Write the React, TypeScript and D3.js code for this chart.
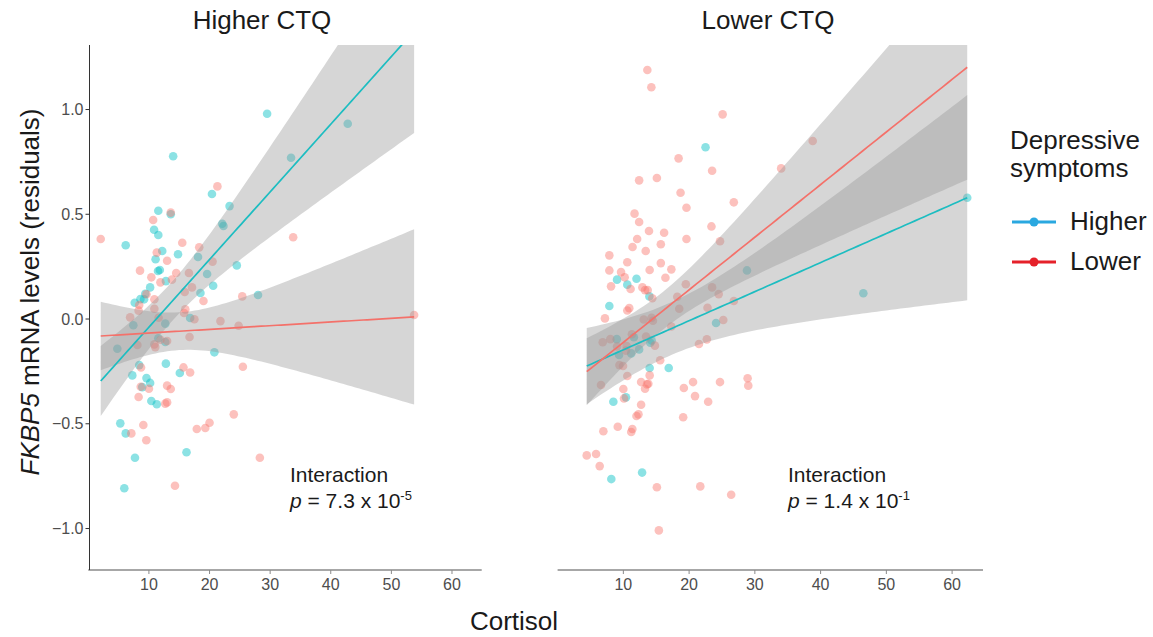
import React from "react";
import * as d3 from "d3";

type Pt = [number, number]; // [cortisol, FKBP5 residual]

// ---- Data -----------------------------------------------------------------
const panelTitles = ["Higher CTQ", "Lower CTQ"];
const groupNames = ["Higher", "Lower"];
const xTicks = [10, 20, 30, 40, 50, 60];
const yTicks = [-1.0, -0.5, 0.0, 0.5, 1.0];
const pValueMantissa = ["7.3", "1.4"];
const pValueExponent = ["-5", "-1"];

// Higher CTQ panel
const highCtqHigherDep: Pt[] = [
  [29.5, 0.98], [14.0, 0.777], [20.4, 0.597], [23.3, 0.539], [11.55, 0.517], [13.6, 0.5],
  [10.85, 0.426], [11.55, 0.401], [22.1, 0.455], [22.3, 0.444], [33.45, 0.77], [42.8, 0.932],
  [6.17, 0.352], [12.2, 0.325], [11.1, 0.285], [14.8, 0.309], [18.1, 0.296], [24.5, 0.256],
  [11.5, 0.229], [11.8, 0.234], [19.6, 0.215], [12.8, 0.181], [20.6, 0.159], [10.2, 0.151],
  [18.5, 0.124], [9.4, 0.12], [28.0, 0.115], [8.6, 0.095], [9.2, 0.094], [7.66, 0.078],
  [16.8, 0.005], [7.43, -0.03], [12.7, -0.022], [11.55, -0.092], [12.7, -0.11], [4.79, -0.142],
  [20.8, -0.159], [8.4, -0.22], [12.8, -0.213], [15.1, -0.258], [7.26, -0.269], [9.6, -0.282],
  [10.2, -0.305], [8.9, -0.325], [10.4, -0.391], [11.3, -0.407], [5.28, -0.498], [6.17, -0.546],
  [7.7, -0.662], [16.2, -0.636], [5.94, -0.808],
];
const highCtqLowerDep: Pt[] = [
  [21.3, 0.633], [13.6, 0.508], [10.7, 0.473], [2.05, 0.382], [33.8, 0.39], [15.5, 0.364],
  [18.3, 0.342], [11.3, 0.317], [13.0, 0.278], [20.5, 0.274], [8.53, 0.231], [14.5, 0.22],
  [16.6, 0.22], [10.4, 0.199], [13.8, 0.188], [11.9, 0.175], [17.1, 0.151], [15.9, 0.129],
  [9.6, 0.118], [25.4, 0.108], [10.9, 0.094], [19.0, 0.086], [8.4, 0.067], [8.3, 0.04],
  [10.9, 0.049], [16.0, 0.046], [15.8, 0.029], [6.9, 0.008], [11.6, 0.006], [17.5, -0.001],
  [21.8, -0.01], [24.8, -0.032], [16.7, -0.086], [11.9, -0.099], [13.0, -0.105], [10.9, -0.121],
  [11.05, -0.134], [8.1, -0.124], [25.5, -0.228], [8.7, -0.231], [15.7, -0.231], [16.8, -0.255],
  [8.65, -0.323], [10.0, -0.333], [13.0, -0.318], [13.6, -0.334], [8.3, -0.372], [13.0, -0.398],
  [12.7, -0.404], [24.0, -0.455], [9.08, -0.506], [17.9, -0.525], [19.3, -0.52], [20.0, -0.495],
  [7.1, -0.546], [9.57, -0.579], [28.3, -0.662], [14.3, -0.796], [53.75, 0.019],
];

// Lower CTQ panel
const lowCtqHigherDep: Pt[] = [
  [22.5, 0.82], [28.8, 0.232], [62.3, 0.579], [46.5, 0.123], [9.04, 0.188], [12.0, 0.192],
  [10.6, 0.164], [13.96, 0.108], [7.87, 0.062], [24.1, -0.019], [9.0, -0.096], [11.6, -0.087],
  [14.3, -0.102], [14.1, -0.113], [9.35, -0.172], [11.2, -0.164], [12.4, -0.145], [14.0, -0.234],
  [16.9, -0.234], [10.4, -0.374], [8.48, -0.395], [8.17, -0.764], [12.85, -0.733],
];
const lowCtqLowerDep: Pt[] = [
  [13.65, 1.189], [14.26, 1.106], [25.1, 0.977], [18.4, 0.767], [23.5, 0.708], [12.4, 0.662],
  [15.1, 0.673], [18.7, 0.603], [19.6, 0.531], [26.8, 0.557], [11.7, 0.503], [12.4, 0.463],
  [13.9, 0.42], [16.2, 0.412], [23.4, 0.442], [12.1, 0.382], [19.6, 0.382], [38.8, 0.85],
  [34.0, 0.719], [28.9, -0.283], [29.0, -0.318], [11.4, 0.344], [15.7, 0.357], [7.87, 0.304],
  [13.4, 0.325], [24.7, 0.371], [10.6, 0.271], [15.7, 0.267], [7.87, 0.232], [9.65, 0.224],
  [14.0, 0.234], [17.3, 0.237], [10.2, 0.199], [16.4, 0.197], [8.13, 0.156], [11.1, 0.143],
  [12.9, 0.151], [13.3, 0.138], [13.7, 0.138], [19.5, 0.166], [23.5, 0.151], [24.5, 0.119],
  [14.4, 0.099], [18.2, 0.106], [26.8, 0.086], [10.6, 0.041], [10.9, 0.052], [18.5, 0.049],
  [22.8, 0.054], [7.2, 0.003], [13.1, -0.002], [14.3, 0.006], [14.5, -0.008], [25.2, -0.005],
  [17.3, -0.036], [6.86, -0.111], [8.02, -0.096], [11.3, -0.073], [13.45, -0.084], [14.8, -0.127],
  [22.7, -0.097], [21.5, -0.119], [9.04, -0.131], [10.5, -0.129], [10.4, -0.151], [15.6, -0.197],
  [9.4, -0.22], [9.95, -0.224], [10.6, -0.272], [14.0, -0.269], [6.6, -0.315], [12.7, -0.301],
  [13.6, -0.312], [13.8, -0.309], [13.3, -0.333], [10.0, -0.334], [19.2, -0.329], [20.6, -0.301],
  [20.9, -0.368], [24.7, -0.301], [10.1, -0.379], [22.9, -0.395], [12.7, -0.409], [12.3, -0.455],
  [12.0, -0.463], [19.1, -0.469], [6.96, -0.536], [9.15, -0.514], [11.37, -0.525], [11.2, -0.539],
  [4.43, -0.651], [5.85, -0.644], [6.4, -0.702], [15.1, -0.803], [21.7, -0.799], [26.4, -0.839],
  [15.4, -1.009],
];

// Linear fits per panel, ordered [Higher, Lower] depressive symptoms.
// Confidence half-width: sqrt(bandMin^2 + (bandGrowth * (x - bandCenter))^2)
const highCtqFitRange: [number, number] = [2.05, 53.75];
const highCtqIntercepts = [-0.362, -0.0846];
const highCtqSlopes = [0.0323, 0.00176];
const highCtqBandMin = [0.094, 0.09];
const highCtqBandCenter = [13.7, 15];
const highCtqBandGrowth = [0.0119, 0.01055];

const lowCtqFitRange: [number, number] = [4.43, 62.3];
const lowCtqIntercepts = [-0.2858, -0.3627];
const lowCtqSlopes = [0.01388, 0.02511];
const lowCtqBandMin = [0.126, 0.09];
const lowCtqBandCenter = [17, 16];
const lowCtqBandGrowth = [0.01045, 0.01142];

// ---- Styling ---------------------------------------------------------------
const FONT = "'Liberation Sans', Arial, Helvetica, sans-serif";
const POINT_COLORS = ["#00BFC4", "#F8766D"];
const LINE_COLORS = ["#1DBDC1", "#F4716A"];
const LEGEND_COLORS = ["#2AA8E0", "#E5212A"];

const PANEL_TOP = 45;
const PANEL_BOTTOM = 570;

const yScale = d3.scaleLinear().domain([-1.198, 1.308]).range([PANEL_BOTTOM, PANEL_TOP]);

interface PanelSpec {
  title: string;
  titleX: number;
  x: d3.ScaleLinear<number, number>;
  higher: Pt[];
  lower: Pt[];
  fitRange: [number, number];
  intercepts: number[];
  slopes: number[];
  bandMin: number[];
  bandCenter: number[];
  bandGrowth: number[];
  showYAxis: boolean;
  annotX: number;
  pMant: string;
  pExp: string;
}

const panels: PanelSpec[] = [
  {
    title: panelTitles[0],
    titleX: 262,
    x: d3.scaleLinear().domain([0, 64.9]).range([88.3, 481.7]),
    higher: highCtqHigherDep,
    lower: highCtqLowerDep,
    fitRange: highCtqFitRange,
    intercepts: highCtqIntercepts,
    slopes: highCtqSlopes,
    bandMin: highCtqBandMin,
    bandCenter: highCtqBandCenter,
    bandGrowth: highCtqBandGrowth,
    showYAxis: true,
    annotX: 290,
    pMant: pValueMantissa[0],
    pExp: pValueExponent[0],
  },
  {
    title: panelTitles[1],
    titleX: 768,
    x: d3.scaleLinear().domain([0, 64.7]).range([557.6, 983]),
    higher: lowCtqHigherDep,
    lower: lowCtqLowerDep,
    fitRange: lowCtqFitRange,
    intercepts: lowCtqIntercepts,
    slopes: lowCtqSlopes,
    bandMin: lowCtqBandMin,
    bandCenter: lowCtqBandCenter,
    bandGrowth: lowCtqBandGrowth,
    showYAxis: false,
    annotX: 788,
    pMant: pValueMantissa[1],
    pExp: pValueExponent[1],
  },
];

function Panel({ p, idx }: { p: PanelSpec; idx: number }) {
  const [x0, x1] = p.x.range();
  const clipId = `panel-clip-${idx}`;
  const grid = d3.range(0, 81).map((i) => p.fitRange[0] + ((p.fitRange[1] - p.fitRange[0]) * i) / 80);

  const fits = [0, 1].map((g) => {
    const fit = (c: number) => p.intercepts[g] + p.slopes[g] * c;
    const half = (c: number) =>
      Math.sqrt(p.bandMin[g] ** 2 + (p.bandGrowth[g] * (c - p.bandCenter[g])) ** 2);
    const band = d3
      .area<number>()
      .x((c) => p.x(c))
      .y0((c) => yScale(fit(c) - half(c)))
      .y1((c) => yScale(fit(c) + half(c)))(grid);
    const line = d3
      .line<number>()
      .x((c) => p.x(c))
      .y((c) => yScale(fit(c)))(grid);
    return { band, line };
  });

  const groups = [p.higher, p.lower];

  return (
    <g>
      <defs>
        <clipPath id={clipId}>
          <rect x={x0} y={PANEL_TOP} width={x1 - x0} height={PANEL_BOTTOM - PANEL_TOP} />
        </clipPath>
      </defs>
      <text
        x={p.titleX}
        y={29}
        textAnchor="middle"
        fontSize={26}
        fill="#1a1a1a"
        fontFamily={FONT}
      >
        {p.title}
      </text>

      <g clipPath={`url(#${clipId})`}>
        {groups.map((pts, g) =>
          pts.map((d, i) => (
            <circle
              key={`${g}-${i}`}
              cx={p.x(d[0])}
              cy={yScale(d[1])}
              r={4.3}
              fill={POINT_COLORS[g]}
              fillOpacity={0.45}
            />
          ))
        )}
        {fits.map((f, g) => (
          <path key={`b${g}`} d={f.band ?? ""} fill="#999999" fillOpacity={0.4} />
        ))}
        {fits.map((f, g) => (
          <path key={`l${g}`} d={f.line ?? ""} fill="none" stroke={LINE_COLORS[g]} strokeWidth={1.7} />
        ))}
      </g>

      {/* x axis */}
      <line x1={x0} x2={x1} y1={PANEL_BOTTOM} y2={PANEL_BOTTOM} stroke="#8a8a8a" strokeWidth={1.6} />
      {xTicks.map((t) => (
        <g key={t} transform={`translate(${p.x(t)},${PANEL_BOTTOM})`}>
          <line y1={0} y2={4} stroke="#8a8a8a" strokeWidth={1} />
          <text y={20} textAnchor="middle" fontSize={16} fill="#4d4d4d" fontFamily={FONT}>
            {t}
          </text>
        </g>
      ))}

      {p.showYAxis && (
        <g>
          <line x1={89.5} x2={89.5} y1={PANEL_TOP} y2={PANEL_BOTTOM} stroke="#333333" strokeWidth={1} />
          {yTicks.map((t) => (
            <g key={t} transform={`translate(89.5,${yScale(t)})`}>
              <line x1={-4} x2={0} stroke="#333333" strokeWidth={1} />
              <text x={-6} dy="0.35em" textAnchor="end" fontSize={16} fill="#4d4d4d" fontFamily={FONT}>
                {d3.format(".1f")(t)}
              </text>
            </g>
          ))}
        </g>
      )}

      <text x={p.annotX} y={482} fontSize={21} fill="#1a1a1a" fontFamily={FONT}>
        Interaction
      </text>
      <text x={p.annotX} y={508} fontSize={21} fill="#1a1a1a" fontFamily={FONT}>
        <tspan fontStyle="italic">p</tspan>
        <tspan>{` = ${p.pMant} x 10`}</tspan>
        <tspan fontSize={13} dy={-8}>
          {p.pExp}
        </tspan>
      </text>
    </g>
  );
}

export default function App() {
  return (
    <svg
      width={1153}
      height={637}
      viewBox="0 0 1153 637"
      style={{ position: "absolute", left: 0, top: 0, background: "#ffffff" }}
    >
      <rect width={1153} height={637} fill="#ffffff" />
      {panels.map((p, i) => (
        <Panel key={i} p={p} idx={i} />
      ))}

      {/* axis titles */}
      <text x={514} y={630} textAnchor="middle" fontSize={26} fill="#1a1a1a" fontFamily={FONT}>
        Cortisol
      </text>
      <text
        transform="translate(39,292) rotate(-90)"
        textAnchor="middle"
        fontSize={26}
        fill="#1a1a1a"
        fontFamily={FONT}
      >
        <tspan fontStyle="italic">FKBP5</tspan>
        <tspan> mRNA levels (residuals)</tspan>
      </text>

      {/* legend */}
      <g fontFamily={FONT} fill="#1a1a1a">
        <text x={1010} y={149} fontSize={26}>
          Depressive
        </text>
        <text x={1010} y={177} fontSize={26}>
          symptoms
        </text>
        {groupNames.map((name, i) => {
          const cy = 222 + i * 40;
          return (
            <g key={name}>
              <line x1={1012} x2={1056} y1={cy} y2={cy} stroke={LEGEND_COLORS[i]} strokeWidth={3} />
              <circle cx={1034} cy={cy} r={4.5} fill={LEGEND_COLORS[i]} />
              <text x={1070} y={cy + 8} fontSize={26}>
                {name}
              </text>
            </g>
          );
        })}
      </g>
    </svg>
  );
}
